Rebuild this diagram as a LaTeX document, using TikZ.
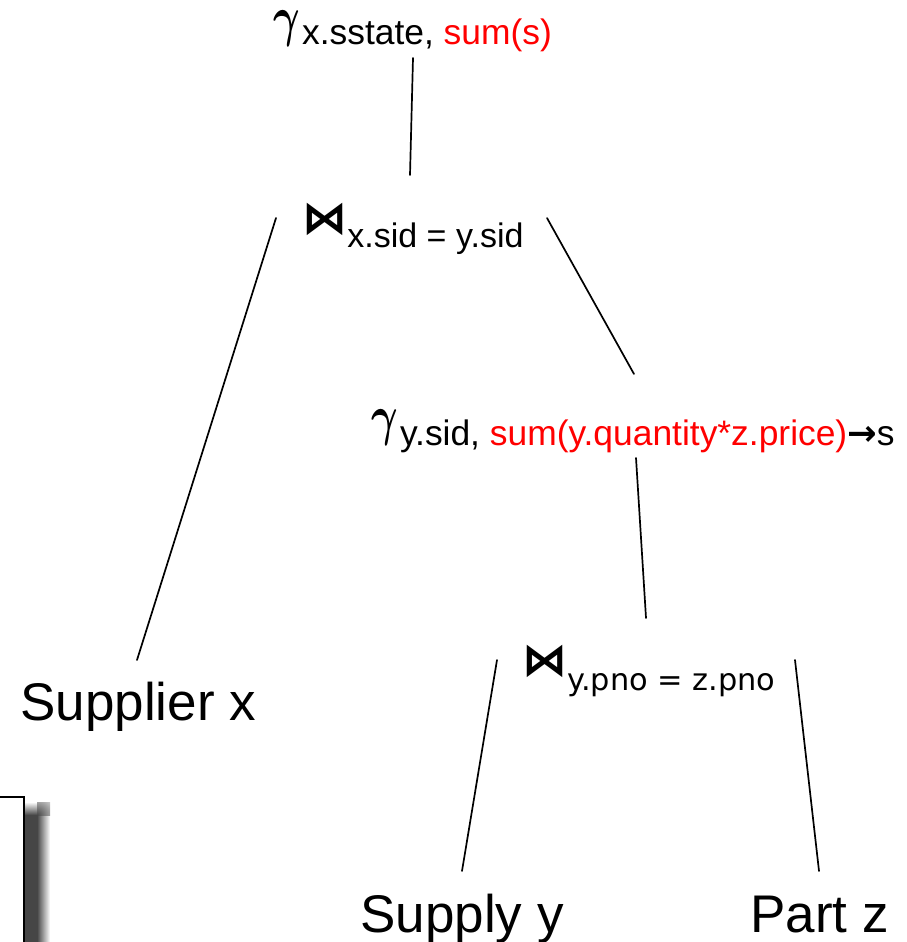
\documentclass[tikz,border=0pt]{standalone}
\usepackage{fontspec}
\setmainfont{Liberation Sans}
\newfontfamily\dejavu{DejaVu Sans}
\usepackage{amsmath}
\usepackage{xcolor}
\usepackage{tikz}
\usetikzlibrary{positioning}
\definecolor{aggred}{RGB}{255,0,0}
\definecolor{shadowgray}{RGB}{70,70,70}
\newcommand{\opgamma}{{\fontsize{29}{29}\selectfont\scalebox{0.82}[1.12]{$\boldsymbol{\gamma}$}}}
\newcommand{\opjoin}{{\dejavu\bfseries\fontsize{22.5}{22}\selectfont ⋈}}
\tikzset{
    opnode/.style   = {inner sep=0pt, anchor=base west},
    relnode/.style  = {opnode, font=\fontsize{26.5}{27}\selectfont},
    treeedge/.style = {line width=0.85pt, line cap=round}
}

\begin{document}
\begin{tikzpicture}[x=0.5pt, y=-0.5pt]
        \useasboundingbox (0,0) rectangle (906,942);

        % operators
        \node[opnode] (gtop) at (273,35)
            {\opgamma\hspace{1pt}\raisebox{-4.5pt}{\fontsize{17.7}{18}\selectfont x.sstate, \textcolor{aggred}{sum(s)}}};
        \node[opnode] (jtop) at (302,233)
            {\opjoin\raisebox{-7pt}{\fontsize{17}{17}\selectfont x.sid = y.sid}};
        \node[opnode] (gsub) at (371,434)
            {\opgamma\hspace{1pt}\raisebox{-5.5pt}{\fontsize{17.7}{18}\selectfont y.sid, \textcolor{aggred}{sum(y.quantity*z.price)}{\dejavu\bfseries →}s}};
        \node[opnode] (jsub) at (522,675)
            {\opjoin\raisebox{-7.5pt}{\dejavu\fontsize{15.2}{15}\selectfont y.pno = z.pno}};

        % relations
        \node[relnode] (supplier) at (20,720) {Supplier x};
        \node[relnode] (supply) at (360,932) {Supply y};
        \node[relnode] (part) at (750,932) {Part z};

        \draw[treeedge] ([shift={(140,23)}]gtop.base west) -- ([shift={(108,-58)}]jtop.base west);
        \draw[treeedge] ([shift={(-26,-15)}]jtop.base west) -- ([shift={(117,-60)}]supplier.base west);
        \draw[treeedge] ([shift={(245,-15)}]jtop.base west) -- ([shift={(263,-60)}]gsub.base west);
        \draw[treeedge] ([shift={(265,24)}]gsub.base west) -- ([shift={(124,-57)}]jsub.base west);
        \draw[treeedge] ([shift={(-25,-15)}]jsub.base west) -- ([shift={(102,-61)}]supply.base west);
        \draw[treeedge] ([shift={(273,-15)}]jsub.base west) -- ([shift={(69,-61)}]part.base west);

        % box in the corner, with its shadow
        \fill[shadowgray] (24,815) rectangle (37,950);
        \shade[left color=shadowgray, right color=white] (37,815) rectangle (50,950);
        \shade[top color=white, bottom color=shadowgray] (24,802) rectangle (37,815);
        \begin{scope}
            \clip (37,802) rectangle (50,815);
            \shade[inner color=shadowgray, outer color=white] (37,815) circle (26);
        \end{scope}
        \draw[line width=1pt, fill=white] (-10,797) rectangle (24,950);
    \end{tikzpicture}
\end{document}
